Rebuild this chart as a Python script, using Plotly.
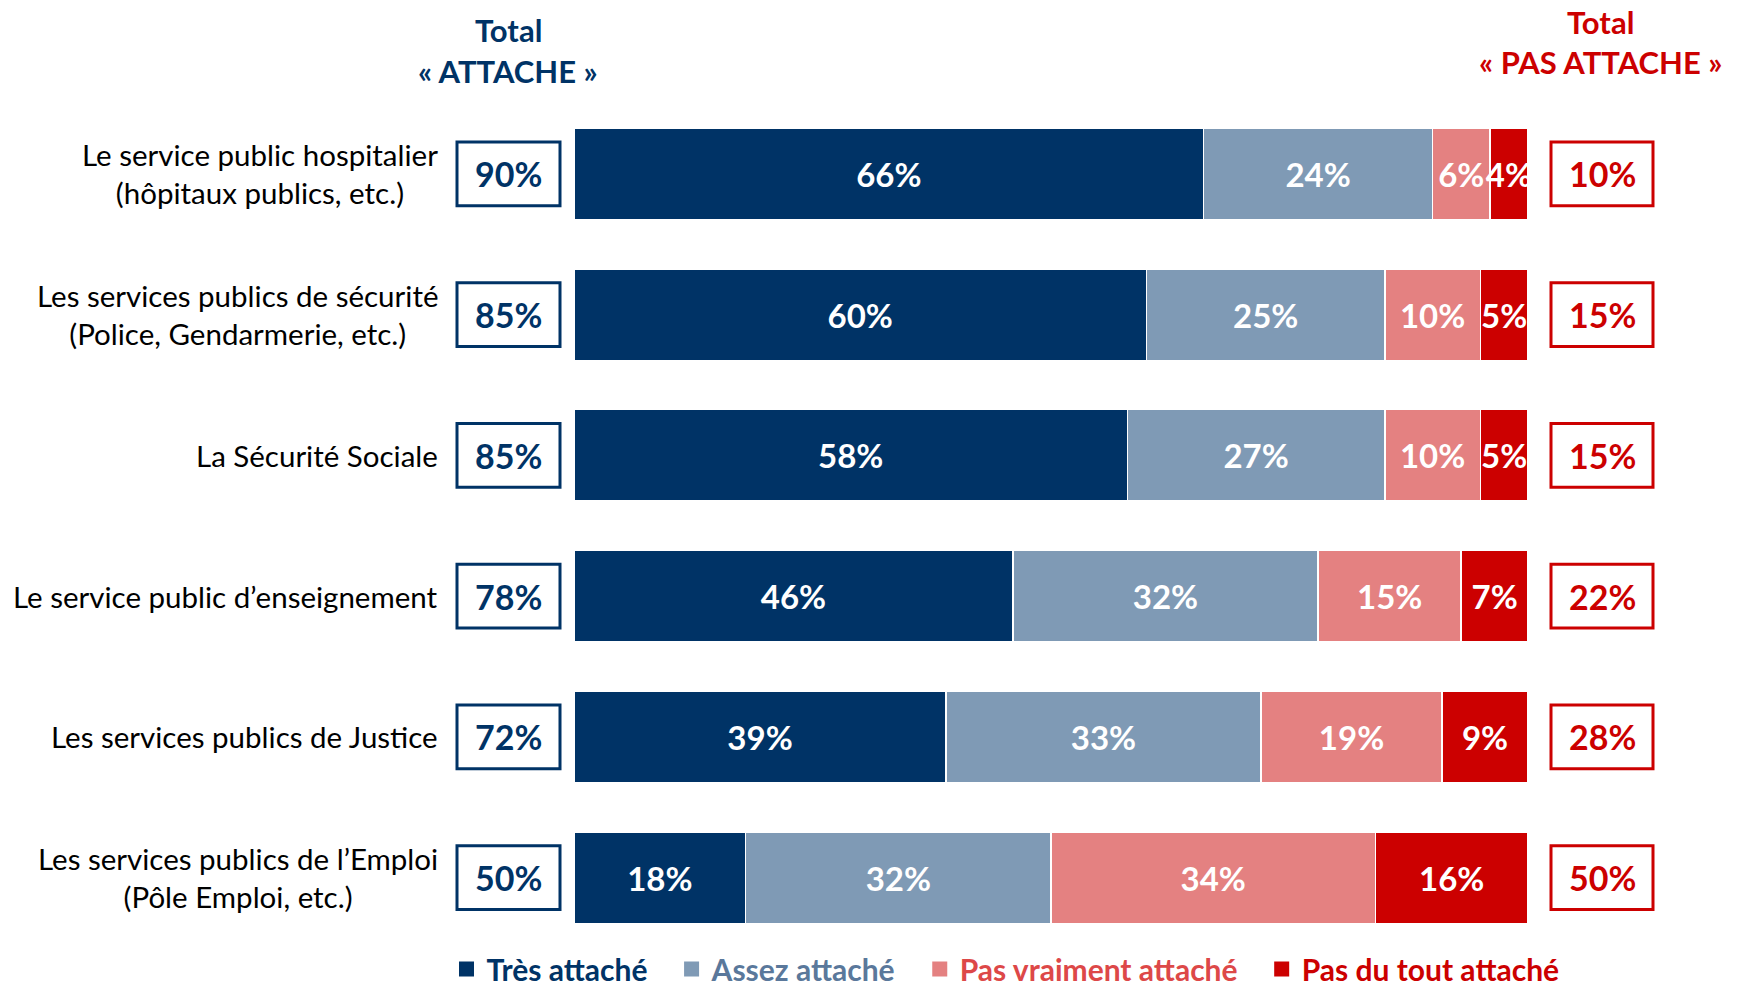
import plotly.graph_objects as go

# ---------------- data ----------------
categories = [
    "Le service public hospitalier<br>(hôpitaux publics, etc.)",
    "Les services publics de sécurité<br>(Police, Gendarmerie, etc.)",
    "La Sécurité Sociale",
    "Le service public d’enseignement",
    "Les services publics de Justice",
    "Les services publics de l’Emploi<br>(Pôle Emploi, etc.)",
]
tres_attache = [66, 60, 58, 46, 39, 18]
assez_attache = [24, 25, 27, 32, 33, 32]
pas_vraiment_attache = [6, 10, 10, 15, 19, 34]
pas_du_tout_attache = [4, 5, 5, 7, 9, 16]
total_attache = [90, 85, 85, 78, 72, 50]
total_pas_attache = [10, 15, 15, 22, 28, 50]
series_names = ["Très attaché", "Assez attaché", "Pas vraiment attaché", "Pas du tout attaché"]

# ---------------- style ----------------
W, H = 1738, 995
FONT = "Lato"
NAVY = "#003366"
RED = "#CC0000"
bar_colors = [NAVY, "#7F9AB5", "#E48181", RED]
legend_text_colors = [NAVY, "#5A789B", "#DD4848", RED]

fig = go.Figure()
series = [tres_attache, assez_attache, pas_vraiment_attache, pas_du_tout_attache]
for name, vals, col in zip(series_names, series, bar_colors):
    fig.add_trace(go.Bar(
        y=categories, x=vals, orientation="h", name=name, showlegend=False,
        marker=dict(color=col, line=dict(color="white", width=1.5)),
        text=[f"<b>{v}%</b>" for v in vals],
        textposition="inside", insidetextanchor="middle", textangle=0,
        textfont=dict(family=FONT, size=33, color="white"),
        hoverinfo="skip", cliponaxis=True,
    ))

# legend entries (square swatches, coloured text)
for name, col, lcol in zip(series_names, bar_colors, legend_text_colors):
    fig.add_trace(go.Scatter(
        x=[None], y=[None], mode="markers",
        marker=dict(symbol="square", size=15, color=col),
        name=f"<span style='color:{lcol}'><b>{name}</b></span>" + "\u00a0" * 2 + "\u2009",
        showlegend=True, hoverinfo="skip",
    ))

px = lambda v: v / W
py = lambda v: 1 - v / H

fig.update_layout(
    width=W, height=H,
    margin=dict(l=0, r=0, t=0, b=0, autoexpand=False),
    paper_bgcolor="white", plot_bgcolor="white",
    barmode="stack", bargap=0.35,
    font=dict(family=FONT, color="black"),
    uniformtext=dict(minsize=33, mode="show"),
    xaxis=dict(domain=[px(574), px(1528)], range=[0, 100], visible=False, fixedrange=True),
    yaxis=dict(domain=[py(948), py(103.5)], type="category",
               categoryorder="array", categoryarray=categories,
               range=[len(categories) - 0.5, -0.5], visible=False, fixedrange=True),
    showlegend=True,
    legend=dict(orientation="h", xref="container", yref="container",
                x=px(1015), xanchor="center", y=0, yanchor="bottom",
                font=dict(family=FONT, size=30), traceorder="normal",
                borderwidth=0, bgcolor="rgba(0,0,0,0)"),
)

annotations = []
shapes = []
for i, (cat, ta, tp) in enumerate(zip(categories, total_attache, total_pas_attache)):
    annotations.append(dict(
        x=px(440), xref="paper", xanchor="right", y=cat, yref="y", yanchor="middle",
        text=cat, align="center", showarrow=False,
        font=dict(family=FONT, size=29.5, color="black")))
    annotations.append(dict(
        x=px(508.5), xref="paper", xanchor="center", y=cat, yref="y", yanchor="middle",
        text=f"<b>{ta}%</b>", showarrow=False,
        font=dict(family=FONT, size=34, color=NAVY)))
    annotations.append(dict(
        x=px(1602), xref="paper", xanchor="center", y=cat, yref="y", yanchor="middle",
        text=f"<b>{tp}%</b>", showarrow=False,
        font=dict(family=FONT, size=34, color=RED)))
    shapes.append(dict(type="rect", xref="paper", yref="y",
                       x0=px(457), x1=px(560), y0=i - 0.227, y1=i + 0.227,
                       line=dict(color=NAVY, width=3), fillcolor="rgba(0,0,0,0)"))
    shapes.append(dict(type="rect", xref="paper", yref="y",
                       x0=px(1551), x1=px(1653), y0=i - 0.227, y1=i + 0.227,
                       line=dict(color=RED, width=3), fillcolor="rgba(0,0,0,0)"))

headers = [
    ("<b>Total</b>", 508, 30, NAVY),
    ("<b>« ATTACHE »</b>", 508, 71, NAVY),
    ("<b>Total</b>", 1600, 22, RED),
    ("<b>« PAS ATTACHE »</b>", 1600, 62, RED),
]
for txt, x, y, col in headers:
    annotations.append(dict(x=px(x), y=py(y), xref="paper", yref="paper",
                            xanchor="center", yanchor="middle", text=txt, showarrow=False,
                            font=dict(family=FONT, size=31, color=col)))

fig.update_layout(annotations=annotations, shapes=shapes)
fig.write_html("out.html")
